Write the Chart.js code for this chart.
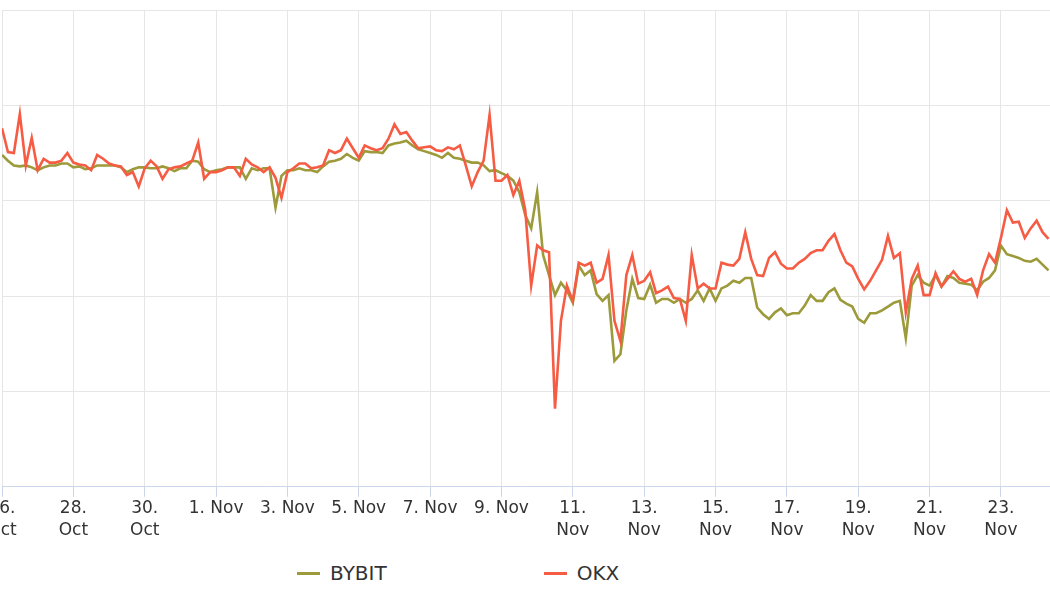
<!DOCTYPE html>
<html lang="en">
<head>
  <meta charset="UTF-8">
  <title>BYBIT vs OKX</title>
  <script src="https://cdn.jsdelivr.net/npm/chart.js"></script>
  <style>
    * { margin: 0; padding: 0; box-sizing: border-box; }
    html, body {
      width: 1050px;
      height: 600px;
      overflow: hidden;
      background: #fff;
      font-family: "DejaVu Sans", Verdana, sans-serif;
    }
    /* canvas is wider than the window so the left date label gets cut, like the screenshot */
    .wrap {
      position: absolute;
      left: -60px;
      top: 0;
      width: 1110px;
      height: 560px;
    }
    .legend {
      position: absolute;
      left: 297px;
      top: 561px;
      display: flex;
      gap: 157px;
      color: #333;
      font-size: 20px;
    }
    .legend .item { display: flex; align-items: center; }
    .legend .sym { width: 23px; height: 3px; margin-right: 10px; }
  </style>
</head>
<body>
  <div class="wrap"><canvas id="chart"></canvas></div>
  <div class="legend" id="legend"></div>

  <script>
    // x axis: hours since 26 Oct 00:00, one point every 4 hours
    const startHour = 0;
    const stepHours = 4;
    const tickStepHours = 48;
    const tickLabels = [
      ['26.', 'Oct'], ['28.', 'Oct'], ['30.', 'Oct'],
      '1. Nov', '3. Nov', '5. Nov', '7. Nov', '9. Nov',
      ['11.', 'Nov'], ['13.', 'Nov'], ['15.', 'Nov'], ['17.', 'Nov'],
      ['19.', 'Nov'], ['21.', 'Nov'], ['23.', 'Nov']
    ];

    const seriesNames = ['BYBIT', 'OKX'];
    const seriesColors = ['#9c9a3a', '#f65b43'];

    const bybitValues = [
      348, 342, 337, 336, 337, 335, 332, 335, 337, 337, 339, 339, 335, 336, 333, 334,
      337, 337, 337, 337, 335, 330, 333, 335, 335, 334, 334, 336, 334, 331, 334, 334,
      342, 341, 333, 330, 332, 333, 335, 335, 335, 323, 334, 332, 334, 334, 293, 326,
      332, 332, 334, 332, 332, 330, 336, 341, 342, 344, 349, 345, 342, 352, 351, 351,
      350, 358, 360, 361, 363, 358, 354, 352, 350, 348, 345, 350, 345, 344, 342, 340,
      340, 337, 331, 332, 329, 326, 321, 309, 285, 271, 309, 243, 222, 201, 214, 206,
      193, 232, 222, 227, 202, 195, 201, 132, 139, 185, 218, 198, 197, 212, 193, 197,
      197, 193, 197, 193, 197, 206, 195, 208, 195, 208, 211, 216, 214, 219, 219, 188,
      181, 176, 183, 187, 180, 182, 182, 190, 201, 195, 195, 204, 208, 196, 192, 189,
      176, 172, 182, 182, 185, 189, 193, 195, 156, 211, 222, 214, 211, 222, 210, 221,
      219, 214, 213, 212, 206, 215, 219, 227, 253, 244, 242, 240, 237, 236, 239, 233,
      227
    ];

    const okxValues = [
      376, 351, 350, 391, 337, 366, 332, 344, 340, 340, 342, 350, 340, 338, 337, 332,
      348, 344, 339, 337, 336, 327, 330, 315, 334, 342, 336, 323, 333, 335, 336, 339,
      342, 361, 323, 330, 330, 332, 335, 335, 326, 344, 338, 335, 330, 335, 324, 303,
      330, 334, 339, 339, 334, 335, 337, 353, 350, 353, 365, 355, 345, 358, 355, 353,
      355, 365, 380, 370, 372, 363, 355, 356, 357, 353, 352, 356, 354, 358, 337, 315,
      330, 342, 390, 321, 321, 327, 306, 321, 290, 211, 253, 248, 246, 82, 174, 211,
      195, 235, 232, 235, 214, 218, 243, 174, 153, 222, 243, 213, 216, 225, 203, 206,
      210, 198, 197, 174, 243, 208, 213, 208, 208, 235, 233, 232, 239, 267, 239, 222,
      221, 240, 246, 234, 229, 229, 235, 239, 245, 248, 248, 258, 265, 248, 235, 231,
      218, 207, 216, 227, 238, 263, 240, 245, 183, 218, 232, 201, 201, 224, 210, 218,
      226, 218, 215, 218, 201, 227, 244, 235, 261, 290, 277, 278, 261, 271, 279, 267,
      260
    ];

    const allValues = [bybitValues, okxValues];

    function toPoints(values) {
      return values.map((v, i) => ({ x: startHour + i * stepHours, y: v }));
    }

    const datasets = seriesNames.map((name, k) => ({
      label: name,
      data: toPoints(allValues[k]),
      borderColor: seriesColors[k],
      backgroundColor: seriesColors[k],
      borderWidth: 2.6,
      pointRadius: 0,
      tension: 0,
      fill: false,
      // OKX is drawn over BYBIT
      order: k === 1 ? 0 : 1
    }));

    const chart = new Chart(document.getElementById('chart'), {
      type: 'line',
      data: { datasets },
      options: {
        animation: false,
        responsive: true,
        maintainAspectRatio: false,
        layout: { padding: { left: 62, right: 0, top: 10, bottom: 17 } },
        plugins: { legend: { display: false }, tooltip: { enabled: false } },
        scales: {
          x: {
            type: 'linear',
            min: 0,
            max: 705,
            afterBuildTicks: (scale) => {
              scale.ticks = tickLabels.map((_, k) => ({ value: k * tickStepHours }));
            },
            grid: {
              color: '#e6e6e6',
              tickColor: '#ccd6eb',
              tickLength: 10,
              drawTicks: true
            },
            border: { color: '#ccd6eb', width: 1 },
            ticks: {
              autoSkip: false,
              maxRotation: 0,
              padding: 1,
              color: '#333',
              font: { family: '"DejaVu Sans", Verdana, sans-serif', size: 17, lineHeight: 1.3 },
              callback: (value, index) => tickLabels[index]
            }
          },
          y: {
            min: 0,
            max: 500,
            ticks: { display: false, stepSize: 100 },
            grid: { color: '#e6e6e6', drawTicks: false },
            border: { display: false }
          }
        }
      }
    });

    // simple legend under the plot, built from the datasets
    const legend = document.getElementById('legend');
    chart.data.datasets.forEach(ds => {
      const item = document.createElement('div');
      item.className = 'item';
      const sym = document.createElement('span');
      sym.className = 'sym';
      sym.style.background = ds.borderColor;
      const txt = document.createElement('span');
      txt.textContent = ds.label;
      item.appendChild(sym);
      item.appendChild(txt);
      legend.appendChild(item);
    });
  </script>
</body>
</html>
